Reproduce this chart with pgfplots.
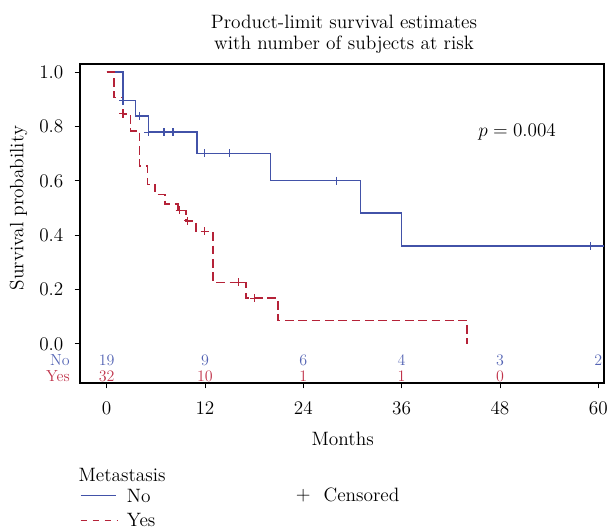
\documentclass[border=0pt]{standalone}
\usepackage{pgfplots}
\pgfplotsset{compat=1.18}
\definecolor{kmBlue}{HTML}{4252A8}
\definecolor{kmRed}{HTML}{B52238}
\definecolor{riskBlue}{HTML}{5464B4}
\definecolor{riskRed}{HTML}{C0334A}
\newcommand{\mainf}{\fontsize{14.5pt}{17pt}\selectfont}
\newcommand{\riskf}{\fontsize{12pt}{14pt}\selectfont}

\begin{document}
\begin{tikzpicture}[
  rb/.style={riskBlue, font=\riskf, anchor=base, inner sep=0pt},
  rr/.style={riskRed, font=\riskf, anchor=base, inner sep=0pt},
]
\useasboundingbox (-60pt,-109.5pt) rectangle (396pt,287.25pt);
\begin{axis}[
  at={(0,0)}, anchor=south west,
  scale only axis, width=393pt, height=239.25pt,
  xmin=-3.25, xmax=60.7, ymin=-0.144, ymax=1.03,
  xtick={0,12,24,36,48,60},
  ytick={0,0.2,0.4,0.6,0.8,1.0},
  tick align=outside, xtick pos=left, ytick pos=left,
  major tick length=4pt,
  tick style={black, line width=0.6pt},
  axis line style={line width=0.8pt},
  yticklabel style={/pgf/number format/fixed,
                    /pgf/number format/fixed zerofill,
                    /pgf/number format/precision=1,
                    inner sep=0pt, xshift=-8.3pt},
  xticklabel style={inner sep=0pt, yshift=-9.8pt},
  tick label style={font=\mainf},
  clip=false,
]
% survival curves (step functions)
\addplot[kmBlue, line width=1.2pt, const plot] coordinates {
  (0,1)(2,0.895)(3.5,0.839)(5.1,0.779)(11,0.701)(20,0.601)
  (31,0.481)(36,0.361)(60.7,0.361)};
\addplot[kmRed, line width=1.2pt, const plot, dash pattern=on 6.5pt off 3.5pt]
  coordinates {
  (0,1)(0.9,0.906)(2,0.847)(2.9,0.784)(4,0.654)(5,0.587)(5.9,0.550)
  (7.1,0.515)(8.7,0.491)(9.7,0.453)(10.9,0.414)(13,0.226)(17,0.168)
  (20.9,0.086)(44,0)};
% censored
\addplot[only marks, mark=+, mark size=3pt, kmBlue, line width=0.8pt]
  coordinates {(2,0.895)(4,0.839)(5.1,0.779)(7,0.779)(8.1,0.779)
               (12,0.701)(15,0.701)(28,0.601)(59,0.361)};
\addplot[only marks, mark=+, mark size=3pt, kmRed, line width=0.8pt]
  coordinates {(2,0.847)(8.9,0.491)(9.9,0.453)(12,0.414)(16.1,0.226)
               (18,0.168)};
% numbers at risk
\node[rb] at (axis cs:0,-0.078) {19};
\node[rb] at (axis cs:12,-0.078) {9};
\node[rb] at (axis cs:24,-0.078) {6};
\node[rb] at (axis cs:36,-0.078) {4};
\node[rb] at (axis cs:48,-0.078) {3};
\node[rb] at (axis cs:60,-0.078) {2};
\node[rr] at (axis cs:0,-0.139) {32};
\node[rr] at (axis cs:12,-0.139) {10};
\node[rr] at (axis cs:24,-0.139) {1};
\node[rr] at (axis cs:36,-0.139) {1};
\node[rr] at (axis cs:48,-0.139) {0};
\node[font=\mainf, anchor=base] at (axis cs:50.1,0.765) {$p = 0.004$};
\end{axis}

\node[rb, anchor=base east] at (-7.5pt,13.2pt) {No};
\node[rr, anchor=base east] at (-7.5pt,1pt) {Yes};

\node[font=\mainf, anchor=base] at (198pt,266pt)
  {Product-limit survival estimates};
\node[font=\mainf, anchor=base] at (198pt,250.3pt)
  {with number of subjects at risk};
\node[font=\mainf, rotate=90] at (-46pt,131.25pt) {Survival probability};
\node[font=\mainf, anchor=base] at (197pt,-46.5pt) {Months};

% legend
\node[font=\mainf, anchor=base west, inner sep=0pt] at (-1.3pt,-74pt)
  {Metastasis};
\draw[kmBlue, line width=0.9pt] (0.5pt,-84.5pt) -- (27pt,-84.5pt);
\node[font=\mainf, anchor=base west, inner sep=0pt] at (35pt,-89.8pt) {No};
\draw[kmRed, line width=0.9pt, dash pattern=on 5pt off 4pt]
  (0.5pt,-103.3pt) -- (28pt,-103.3pt);
\node[font=\mainf, anchor=base west, inner sep=0pt] at (35pt,-107.6pt) {Yes};
\node[font=\mainf] at (167.5pt,-84.5pt) {+};
\node[font=\mainf, anchor=base west, inner sep=0pt] at (182.5pt,-89pt)
  {Censored};
\end{tikzpicture}
\end{document}
